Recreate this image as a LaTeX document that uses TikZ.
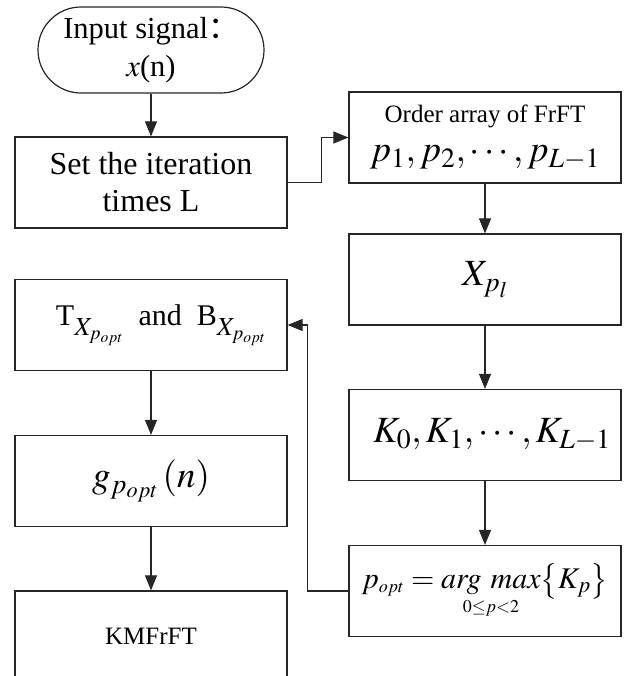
\documentclass[tikz,border=0pt]{standalone}
\usepackage{mathptmx}
\usepackage[no-math]{fontspec}
\setmainfont{Liberation Serif}
\newfontfamily\cjk{Noto Sans CJK SC}
\usetikzlibrary{arrows.meta}
\renewcommand\defaultscriptratio{.75}
\renewcommand\defaultscriptscriptratio{.6}
\newcommand\subX{\raisebox{-10pt}{\fontsize{26}{26}\selectfont$X_{p_{opt}}$}}
\begin{document}
\begin{tikzpicture}[x=1pt,y=-1pt,
  box/.style={draw=black!85, line width=1.2pt, minimum width=272pt, minimum height=91pt,
    inner sep=0pt, align=center, font=\fontsize{32}{37}\selectfont},
  term/.style={box, minimum width=226pt, minimum height=86pt, rounded corners=43pt,
    font=\fontsize{30.5}{37}\selectfont},
  arr/.style={draw=black!85, line width=1.1pt, -{Triangle[width=12pt,length=15pt]}},
  big/.style={font=\fontsize{37}{40}\selectfont},
  small/.style={font=\fontsize{25}{36}\selectfont}]
\useasboundingbox (0,0) rectangle (630,676);
\clip (0,0) rectangle (630,676);
\node[term] (in) at (151,50) {Input signal{\cjk ：}\\[1pt]$x$(n)};
\node[box] (iter) at (151,182.5) {Set the iteration\\times L};
\node[box] (ord) at (485,137.5) {{\fontsize{25}{30}\selectfont Order array of FrFT}\\[2pt]{\fontsize{37}{40}\selectfont $p_1,p_2,\cdots,p_{L-1}$}};
\node[box,big] (xp) at (485,279.5) {$X_{p_l}$};
\node[box,big] (kk) at (485,435) {\hspace*{14pt}$K_0,K_1,\cdots,K_{L-1}$};
\node[box,font=\fontsize{30}{36}\selectfont] (popt) at (485,591) {$p_{\scriptscriptstyle opt}=\mathop{\mathit{arg}\hspace{9pt}\mathit{max}}\limits_{\scriptscriptstyle 0\le p<2}\bigl\{K_p\bigr\}$};
\node[box,font=\fontsize{30}{36}\selectfont] (tb) at (151,325) {\hspace*{20pt}T\subX\ \ and \ B\subX};
\node[box,big] (g) at (151,481) {$g_{p_{opt}}\,(n)$};
\node[box,small] (km) at (151,636.5) {KMFrFT};
\draw[arr] (in) -- (iter);
\draw[arr] (iter.east) -- ++(34,0) |- (ord.west);
\draw[arr] (ord) -- (xp);
\draw[arr] (xp) -- (kk);
\draw[arr] (kk) -- (popt);
\draw[arr] (popt.west) -- ++(-41,0) |- (tb.east);
\draw[arr] (tb) -- (g);
\draw[arr] (g) -- (km);
\end{tikzpicture}
\end{document}
